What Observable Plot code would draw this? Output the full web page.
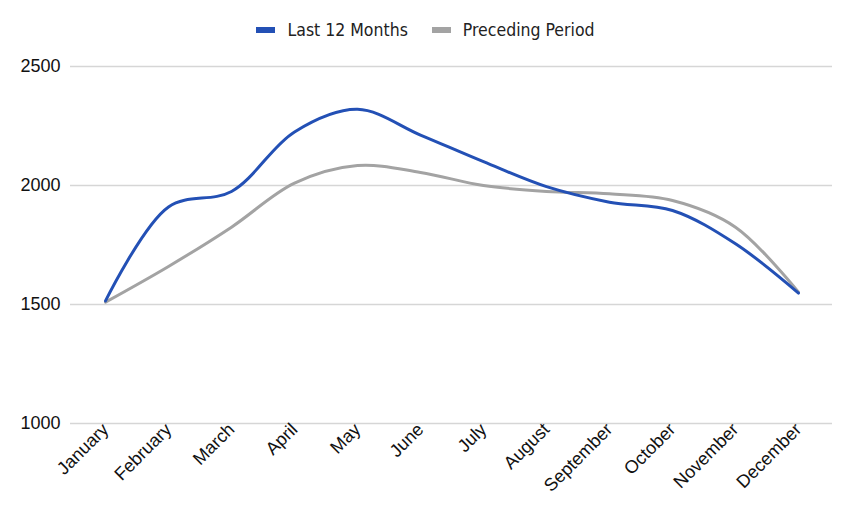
<!DOCTYPE html>
<html>
<head>
<meta charset="utf-8">
<script src="https://cdn.jsdelivr.net/npm/d3@7"></script>
<script src="https://cdn.jsdelivr.net/npm/@observablehq/plot@0.6"></script>
<style>
  html, body { margin: 0; padding: 0; background: #fff; }
  #legend { height: 50px; padding-top: 10px; display: flex; justify-content: center; align-items: center; font-family: "DejaVu Sans Condensed", "DejaVu Sans", sans-serif; font-size: 17.5px; color: #222; padding-left: 0; box-sizing: border-box; }
  .item { display: flex; align-items: center; margin: 0 12px; }
  .sw { width: 19px; height: 6px; margin-right: 12px; }
</style>
</head>
<body>
<div id="legend"></div>
<div id="chart"></div>
<script>
const months = ["January","February","March","April","May","June","July","August","September","October","November","December"];
const last12 = [1515, 1910, 1975, 2225, 2320, 2212, 2100, 1995, 1930, 1895, 1755, 1548];
const preceding = [1510, 1660, 1825, 2010, 2084, 2055, 2000, 1975, 1965, 1937, 1825, 1552];
const yTicks = [1000, 1500, 2000, 2500];
const seriesNames = ["Last 12 Months", "Preceding Period"];
const colors = ["#2350b5", "#a3a3a3"];

const rows = [];
months.forEach((m, i) => {
  rows.push({month: m, value: last12[i], series: seriesNames[0]});
  rows.push({month: m, value: preceding[i], series: seriesNames[1]});
});

const legend = document.getElementById("legend");
seriesNames.forEach((s, i) => {
  const it = document.createElement("div");
  it.className = "item";
  it.innerHTML = `<span class="sw" style="background:${colors[i]}"></span><span>${s}</span>`;
  legend.appendChild(it);
});

const chart = Plot.plot({
  width: 851,
  height: 472,
  marginLeft: 70,
  marginRight: 19,
  marginTop: 16,
  marginBottom: 99,
  style: {fontFamily: "'Liberation Sans', Arial, sans-serif", fontSize: "18px", color: "#111", background: "#fff"},
  x: {type: "point", domain: months, padding: 0.52, label: null},
  y: {domain: [1000, 2500], label: null},
  color: {domain: seriesNames, range: colors},
  marks: [
    Plot.gridY(yTicks, {stroke: "#d6d6d6", strokeOpacity: 1, strokeWidth: 1.3}),
    Plot.axisY(yTicks, {tickSize: 0, tickPadding: 10, fontSize: 18, tickFormat: d => String(d), label: null}),
    Plot.axisX({tickSize: 0, tickPadding: 3, tickRotate: -45, fontSize: 18, label: null}),
    Plot.line(rows.filter(d => d.series === seriesNames[1]), {x: "month", y: "value", stroke: colors[1], strokeWidth: 3, curve: "catmull-rom"}),
    Plot.line(rows.filter(d => d.series === seriesNames[0]), {x: "month", y: "value", stroke: colors[0], strokeWidth: 3, curve: "catmull-rom"})
  ]
});
document.getElementById("chart").appendChild(chart);
</script>
</body>
</html>
